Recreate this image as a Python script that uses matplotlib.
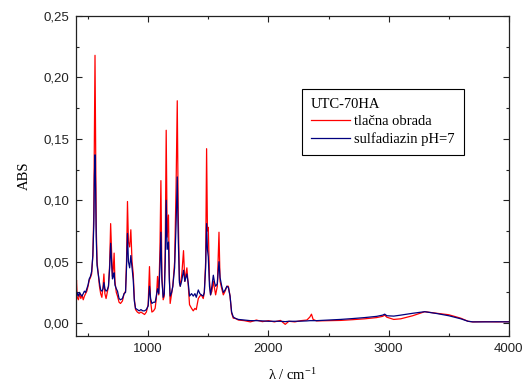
import matplotlib
matplotlib.use('Agg')
import matplotlib.pyplot as plt
from matplotlib.ticker import MultipleLocator

# ── spectrum ──
WN = [400, 404, 410, 420, 430, 440, 450, 460, 470, 480, 490, 500, 510, 520,
      530, 540, 548, 553, 558, 563, 568, 575, 585, 595, 605, 615, 625, 632,
      640, 650, 660, 670, 680, 688, 695, 703, 710, 717, 724, 735, 745, 758,
      770, 786, 800, 812, 820, 828, 836, 846, 856, 866, 876, 885, 895, 910,
      925, 940, 955, 970, 985, 1000, 1011, 1020, 1031, 1045, 1058, 1068,
      1078, 1088, 1098, 1106, 1114, 1125, 1134, 1142, 1150, 1158, 1169,
      1176, 1183, 1195, 1205, 1220, 1232, 1242, 1250, 1260, 1267, 1280,
      1294, 1305, 1322, 1334, 1344, 1361, 1375, 1389, 1400, 1417, 1430,
      1442, 1458, 1467, 1478, 1486, 1493, 1500, 1510, 1519, 1530, 1542,
      1552, 1561, 1575, 1589, 1598, 1612, 1625, 1640, 1655, 1667, 1681,
      1694, 1708, 1722, 1750, 1800, 1850, 1900, 1950, 2000, 2050, 2100,
      2140, 2170, 2220, 2270, 2320, 2345, 2358, 2372, 2400, 2500, 2600,
      2700, 2800, 2900, 2950, 2967, 2985, 3042, 3100, 3200, 3300, 3400,
      3500, 3600, 3660, 3700, 3800, 3900, 4000]

TLACNA = [0.028, 0.035, 0.021, 0.019, 0.024, 0.020, 0.023, 0.019, 0.022,
          0.024, 0.026, 0.030, 0.035, 0.037, 0.040, 0.055, 0.090, 0.160,
          0.218, 0.150, 0.080, 0.050, 0.040, 0.030, 0.024, 0.021, 0.030,
          0.040, 0.024, 0.020, 0.025, 0.030, 0.048, 0.081, 0.060, 0.038,
          0.044, 0.057, 0.034, 0.025, 0.022, 0.017, 0.016, 0.018, 0.024,
          0.026, 0.050, 0.099, 0.066, 0.062, 0.076, 0.050, 0.040, 0.020,
          0.011, 0.009, 0.008, 0.009, 0.008, 0.007, 0.009, 0.015, 0.046,
          0.018, 0.009, 0.010, 0.012, 0.020, 0.038, 0.023, 0.060, 0.116,
          0.040, 0.019, 0.022, 0.060, 0.157, 0.070, 0.088, 0.040, 0.016,
          0.024, 0.030, 0.050, 0.110, 0.181, 0.090, 0.035, 0.030, 0.040,
          0.059, 0.034, 0.045, 0.030, 0.015, 0.012, 0.010, 0.012, 0.011,
          0.020, 0.022, 0.023, 0.020, 0.025, 0.050, 0.142, 0.075, 0.078,
          0.035, 0.023, 0.026, 0.034, 0.028, 0.023, 0.030, 0.074, 0.034,
          0.028, 0.023, 0.026, 0.030, 0.030, 0.022, 0.008, 0.004, 0.004,
          0.0025, 0.002, 0.001, 0.0025, 0.0012, 0.002, 0.001, 0.0022,
          -0.001, 0.0015, 0.001, 0.002, 0.0025, 0.005, 0.0073, 0.003,
          0.0018, 0.002, 0.0022, 0.0028, 0.0035, 0.0045, 0.0055, 0.0065,
          0.0048, 0.003, 0.0035, 0.006, 0.0093, 0.008, 0.0068, 0.004,
          0.0015, 0.001, 0.0012, 0.001, 0.0012]

SULFADIAZIN = [0.024, 0.022, 0.025, 0.022, 0.025, 0.023, 0.022, 0.024,
               0.026, 0.025, 0.028, 0.031, 0.036, 0.038, 0.042, 0.055,
               0.080, 0.120, 0.137, 0.110, 0.070, 0.047, 0.040, 0.033,
               0.027, 0.026, 0.028, 0.033, 0.028, 0.026, 0.027, 0.030,
               0.045, 0.065, 0.052, 0.036, 0.038, 0.041, 0.031, 0.028,
               0.026, 0.020, 0.019, 0.020, 0.024, 0.025, 0.045, 0.073,
               0.050, 0.045, 0.055, 0.045, 0.035, 0.018, 0.012, 0.011,
               0.010, 0.011, 0.010, 0.010, 0.011, 0.014, 0.030, 0.020,
               0.016, 0.017, 0.017, 0.022, 0.028, 0.024, 0.045, 0.074,
               0.035, 0.021, 0.024, 0.050, 0.100, 0.060, 0.066, 0.035,
               0.022, 0.025, 0.030, 0.045, 0.080, 0.119, 0.070, 0.033,
               0.030, 0.035, 0.043, 0.034, 0.040, 0.032, 0.022, 0.024,
               0.022, 0.024, 0.021, 0.027, 0.024, 0.023, 0.022, 0.025,
               0.045, 0.081, 0.060, 0.054, 0.030, 0.023, 0.030, 0.039,
               0.033, 0.030, 0.032, 0.050, 0.037, 0.030, 0.025, 0.027,
               0.030, 0.029, 0.022, 0.009, 0.005, 0.004, 0.003, 0.0025,
               0.002, 0.002, 0.0018, 0.0015, 0.0015, 0.0015, 0.0012,
               0.0015, 0.0015, 0.0016, 0.0018, 0.002, 0.002, 0.002, 0.002,
               0.0025, 0.003, 0.0037, 0.0045, 0.0055, 0.0065, 0.0073,
               0.006, 0.0057, 0.0065, 0.008, 0.0093, 0.0078, 0.006, 0.0035,
               0.0015, 0.001, 0.001, 0.0011, 0.001]

Y_TICKS = [0.00, 0.05, 0.10, 0.15, 0.20, 0.25]
Y_LABELS = ['0,00', '0,05', '0,10', '0,15', '0,20', '0,25']
X_TICKS = [1000, 2000, 3000, 4000]

SERIF = 'Liberation Serif'
SANS = 'Liberation Sans'


def main():
    plt.rcParams['mathtext.fontset'] = 'custom'
    plt.rcParams['mathtext.rm'] = SERIF
    plt.rcParams['mathtext.it'] = SERIF

    fig = plt.figure(figsize=(5.26, 3.86), dpi=100)
    ax = fig.add_axes([0.1445, 0.1295, 0.823, 0.829])

    ax.plot(WN, TLACNA, '-', color='#ff0000', linewidth=0.9,
            label='tlačna obrada')
    ax.plot(WN, SULFADIAZIN, '-', color='#00007f', linewidth=0.9,
            label='sulfadiazin pH=7')

    ax.set_xlim(400, 4000)
    ax.set_ylim(-0.0105, 0.25)
    ax.set_xticks(X_TICKS)
    ax.set_xticklabels([str(t) for t in X_TICKS], fontfamily=SANS,
                       fontsize=9.5)
    ax.set_yticks(Y_TICKS)
    ax.set_yticklabels(Y_LABELS, fontfamily=SANS, fontsize=9.5)
    ax.xaxis.set_minor_locator(MultipleLocator(500))
    ax.yaxis.set_minor_locator(MultipleLocator(0.025))
    ax.tick_params(which='both', direction='in', top=True, right=True,
                   width=0.8, colors='#222222')
    ax.tick_params(which='major', length=4.5, pad=5)
    ax.tick_params(which='minor', length=2.2)
    for sp in ax.spines.values():
        sp.set_linewidth(0.9)
        sp.set_color('#222222')

    ax.set_ylabel('ABS', fontfamily=SERIF, fontsize=10.5, labelpad=9)
    ax.set_xlabel(r'λ / cm$^{\mathrm{-1}}$', fontfamily=SERIF, fontsize=10.5,
                  labelpad=9)

    leg = ax.legend(title='UTC-70HA', loc='upper left',
                    bbox_to_anchor=(0.522, 0.772), borderaxespad=0,
                    frameon=True, fancybox=False, edgecolor='black',
                    framealpha=1, prop={'family': SERIF, 'size': 10.5},
                    handlelength=2.7, handletextpad=0.3, labelspacing=0.3,
                    borderpad=0.6, alignment='left')
    leg.get_title().set_fontfamily(SERIF)
    leg.get_title().set_fontsize(10.5)
    leg.get_frame().set_linewidth(0.8)

    fig.savefig('out.png', dpi=100)
    plt.close(fig)


if __name__ == '__main__':
    main()
